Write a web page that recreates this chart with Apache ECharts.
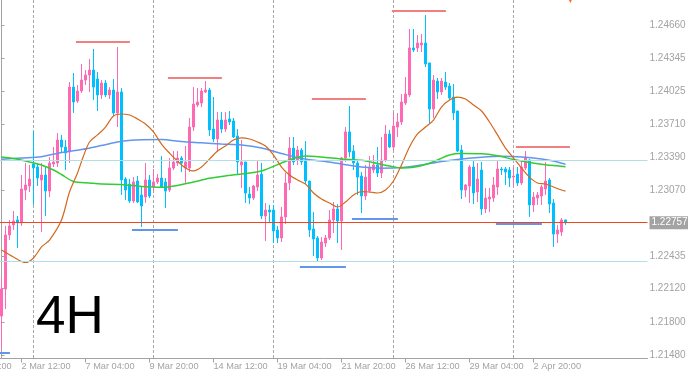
<!DOCTYPE html>
<html><head><meta charset="utf-8">
<script src="https://cdn.jsdelivr.net/npm/echarts@6/dist/echarts.min.js"></script>
<style>html,body{margin:0;padding:0;background:#fff;overflow:hidden}#c{width:688px;height:379px}</style>
</head><body><div id="c"></div>
<script>
// ---- data (4H candles, bar index 0..141) ----
const opens = [1.21856,1.22117,1.22639,1.22736,1.22784,1.22755,1.23073,1.23112,1.23324,1.23295,
1.23170,1.23218,1.23063,1.23324,1.23334,1.23556,1.23488,1.23440,1.24067,1.23932,
1.24029,1.24135,1.24184,1.24232,1.24145,1.23991,1.24106,1.23991,1.24039,1.23817,
1.24020,1.23179,1.23131,1.22967,1.23160,1.23025,1.23005,1.23170,1.23102,1.23151,
1.23189,1.23151,1.23073,1.23286,1.23334,1.23382,1.23286,1.23286,1.23681,1.23894,
1.23913,1.24020,1.24039,1.23662,1.23566,1.23749,1.23662,1.23759,1.23740,1.23595,
1.23315,1.23344,1.23034,1.22996,1.23102,1.23227,1.22822,1.22880,1.22880,1.22687,
1.22610,1.22813,1.23141,1.23478,1.23363,1.23459,1.23353,1.23160,1.22697,1.22610,
1.22417,1.22561,1.22610,1.22784,1.22890,1.22774,1.23382,1.23634,1.23449,1.23334,
1.23208,1.23015,1.23063,1.23266,1.23315,1.23237,1.23363,1.23614,1.23488,1.23681,
1.23730,1.23913,1.23991,1.24445,1.24445,1.24474,1.24493,1.24300,1.23855,1.24125,
1.24020,1.24116,1.24077,1.23971,1.23836,1.23459,1.23073,1.23112,1.23295,1.23054,
1.23266,1.22890,1.22986,1.22996,1.23102,1.23276,1.23276,1.23266,1.23198,1.23227,
1.23141,1.23286,1.23363,1.22929,1.22996,1.23015,1.23083,1.23170,1.22948,1.22648,
1.22668,1.22784];
const closes = [1.22117,1.22639,1.22726,1.22774,1.22755,1.23083,1.23122,1.23179,1.23286,1.23189,
1.23218,1.23063,1.23334,1.23344,1.23556,1.23488,1.23430,1.24067,1.23923,1.24029,
1.24135,1.24184,1.24232,1.24067,1.23991,1.24106,1.23991,1.24039,1.23817,1.24020,
1.23170,1.23073,1.22967,1.23151,1.22958,1.22919,1.23170,1.23015,1.23151,1.23189,
1.23102,1.23063,1.23286,1.23344,1.23382,1.23334,1.23344,1.23681,1.23903,1.23923,
1.24029,1.24039,1.23653,1.23566,1.23749,1.23662,1.23749,1.23730,1.23585,1.23344,
1.23344,1.23044,1.22996,1.23112,1.23218,1.22822,1.22880,1.22861,1.22677,1.22610,
1.22813,1.23141,1.23478,1.23344,1.23459,1.23344,1.23160,1.22687,1.22600,1.22417,
1.22571,1.22610,1.22784,1.22890,1.22774,1.23382,1.23634,1.23440,1.23334,1.23198,
1.23015,1.23198,1.23295,1.23315,1.23237,1.23363,1.23614,1.23488,1.23691,1.23730,
1.23923,1.24000,1.24445,1.24425,1.24493,1.24493,1.24290,1.23855,1.24135,1.24020,
1.24125,1.24067,1.23961,1.23817,1.23449,1.23073,1.23122,1.23295,1.23044,1.23179,
1.22890,1.22996,1.23005,1.23122,1.23276,1.23266,1.23247,1.23189,1.23208,1.23141,
1.23295,1.23391,1.22929,1.23005,1.23025,1.23102,1.23160,1.22938,1.22648,1.22687,
1.22784,1.22757];
const lows = [1.21538,1.21924,1.22590,1.22687,1.22513,1.22726,1.22977,1.23054,1.22929,1.23112,
1.22668,1.22822,1.23005,1.23295,1.23295,1.23430,1.23266,1.23334,1.23817,1.23913,
1.24010,1.24087,1.24020,1.23942,1.23836,1.23952,1.23971,1.23952,1.23788,1.23681,
1.23025,1.22977,1.22948,1.22948,1.22948,1.22716,1.22948,1.22996,1.23044,1.23131,
1.23093,1.22900,1.23054,1.23266,1.23305,1.23247,1.23131,1.23247,1.23643,1.23874,
1.23874,1.24010,1.23595,1.23537,1.23440,1.23624,1.23634,1.23701,1.23576,1.23218,
1.23093,1.22948,1.22938,1.22977,1.23063,1.22793,1.22580,1.22765,1.22561,1.22561,
1.22571,1.22745,1.23073,1.23315,1.23315,1.23315,1.23131,1.22619,1.22436,1.22378,
1.22397,1.22523,1.22590,1.22658,1.22561,1.22494,1.23344,1.23391,1.23266,1.23025,
1.22851,1.22977,1.23044,1.23237,1.23198,1.23189,1.23344,1.23478,1.23459,1.23585,
1.23701,1.23894,1.23971,1.24406,1.24406,1.24406,1.24261,1.23720,1.23769,1.23952,
1.23991,1.24039,1.23942,1.23749,1.23440,1.22986,1.23005,1.22948,1.22938,1.22958,
1.22832,1.22851,1.22861,1.22958,1.23025,1.23218,1.23122,1.23102,1.23102,1.23112,
1.23122,1.23266,1.22813,1.22861,1.22929,1.22929,1.23025,1.22851,1.22523,1.22561,
1.22629,1.22736];
const highs = [1.22224,1.22726,1.22784,1.22870,1.22822,1.23218,1.23334,1.23315,1.23643,1.23334,
1.23334,1.23295,1.23391,1.23488,1.23624,1.23605,1.23556,1.24116,1.24203,1.24087,
1.24290,1.24232,1.24338,1.24435,1.24213,1.24135,1.24135,1.24067,1.24145,1.24454,
1.24058,1.23198,1.23179,1.23198,1.23208,1.23102,1.23334,1.23218,1.23276,1.23227,
1.23401,1.23189,1.23382,1.23449,1.23449,1.23401,1.23498,1.23769,1.24067,1.24058,
1.24058,1.24125,1.24058,1.23971,1.23826,1.23826,1.23826,1.23836,1.23769,1.23662,
1.23556,1.23344,1.23102,1.23122,1.23353,1.23334,1.22948,1.22929,1.22929,1.22726,
1.22909,1.23237,1.23585,1.23585,1.23498,1.23478,1.23546,1.23160,1.22861,1.22629,
1.22619,1.22639,1.22880,1.22958,1.22938,1.23392,1.23681,1.23884,1.23507,1.23363,
1.23247,1.23315,1.23401,1.23411,1.23488,1.23585,1.23701,1.23653,1.23817,1.23817,
1.24000,1.24164,1.24628,1.24628,1.24570,1.24579,1.24763,1.24300,1.24184,1.24155,
1.24155,1.24213,1.24106,1.24096,1.23836,1.23507,1.23131,1.23315,1.23353,1.23334,
1.23344,1.23093,1.23093,1.23198,1.23363,1.23295,1.23295,1.23295,1.23295,1.23295,
1.23363,1.23449,1.23372,1.23054,1.23054,1.23122,1.23344,1.23189,1.22986,1.22736,
1.22803,1.22784];

// moving averages: [bar index, price]
const maFast = [[0,1.22494],[3,1.22426],[6,1.22373],[8,1.22417],[10,1.22523],[12,1.22590],[15,1.22784],
[17,1.23054],[19,1.23237],[20.4,1.23391],[22,1.23537],[24,1.23605],[26,1.23681],[28,1.23788],[30,1.23807],
[32,1.23797],[34,1.23759],[36,1.23710],[38,1.23634],[40,1.23517],[42,1.23430],[44,1.23353],[46,1.23286],
[48,1.23257],[50,1.23295],[52,1.23372],[54,1.23449],[56,1.23498],[58,1.23556],[60,1.23576],[62,1.23566],
[64,1.23537],[66,1.23498],[68,1.23411],[70,1.23295],[72,1.23218],[74,1.23170],[76,1.23131],[78,1.23044],
[80,1.22986],[82,1.22948],[84,1.22909],[86,1.22958],[88,1.23025],[90,1.23058],[92,1.23054],[94,1.23044],
[96,1.23073],[98,1.23160],[100,1.23315],[102,1.23488],[104,1.23614],[106,1.23681],[108,1.23749],[110,1.23874],
[112,1.23942],[114,1.23971],[116,1.23952],[118,1.23894],[120,1.23836],[122,1.23730],[124,1.23605],[126,1.23478],
[128,1.23382],[130,1.23286],[132,1.23198],[134,1.23141],[136,1.23131],[138,1.23102],[140,1.23073],[141,1.23063]];
const maSlow = [[0,1.23370],[5,1.23382],[10,1.23395],[15,1.23435],[20,1.23464],[25,1.23503],[30,1.23544],
[35,1.23559],[40,1.23560],[45,1.23541],[50,1.23529],[55,1.23517],[60,1.23507],[65,1.23478],[70,1.23426],
[75,1.23377],[80,1.23353],[85,1.23324],[90,1.23295],[95,1.23284],[100,1.23290],[105,1.23315],[110,1.23348],
[115,1.23373],[120,1.23390],[125,1.23399],[130,1.23392],[135,1.23373],[138,1.23353],[141,1.23321]];
const maMid = [[0,1.23392],[3,1.23377],[7,1.23344],[10,1.23315],[13,1.23266],[15,1.23223],[18,1.23155],
[22,1.23141],[25,1.23131],[30,1.23126],[35,1.23107],[40,1.23099],[44,1.23117],[48,1.23151],[52,1.23186],
[55,1.23204],[60,1.23227],[65,1.23257],[70,1.23334],[73,1.23377],[76,1.23401],[80,1.23392],[85,1.23373],
[90,1.23360],[94,1.23329],[97,1.23305],[100,1.23286],[103,1.23292],[106,1.23319],[109,1.23363],[112,1.23411],
[115,1.23425],[120,1.23423],[124,1.23404],[128,1.23368],[132,1.23339],[136,1.23317],[141,1.23298]];

// drawn level segments: price, first bar, last bar
const resistValues = [1.24502,1.24155,1.23952,1.24802,1.23488];
const resistFrom   = [18.6,41.6,77.6,97.6,128.6];
const resistTo     = [32.1,55.1,91.1,111.1,142.1];
const supportValues = [1.22687,1.22330,1.22793,1.22745,1.21499];
const supportFrom   = [32.6,74.6,87.6,123.6,-0.4];
const supportTo     = [44.1,86.1,99.1,135.1,2.1];

const levelLines = [1.23360, 1.22388];
const currentPrice = 1.22757;
const separatorBars = [8,38,68,98,128];
const arrowMark = [[142.2, 1.24908]];

const tickLabels = ["27 Feb 20:00","2 Mar 12:00","7 Mar 04:00","9 Mar 20:00","14 Mar 12:00","19 Mar 04:00","21 Mar 20:00","26 Mar 12:00","29 Mar 04:00","2 Apr 20:00"];
const tickBars = [-11,5,21,37,53,69,85,101,117,133];
const priceLabels = [1.24660,1.24345,1.24025,1.23710,1.23390,1.23070,1.22435,1.22120,1.21800,1.21480];
const timeframe = "4H";

// ---- build ----
const barsBefore = 12, barsAfter = 20;
const Y_MIN = 1.21446, Y_MAX = 1.24908;
const X_MIN = -barsBefore - 0.5, X_MAX = opens.length + barsAfter - 0.5;
const cats = [];
for (let i = -barsBefore; i < opens.length + barsAfter; i++) cats.push(String(i));
const candleData = cats.map(c => {
  const i = Number(c);
  if (i < 0 || i >= opens.length) return '-';
  return [opens[i], closes[i], lows[i], highs[i]];
});
const labelMap = {};
tickBars.forEach((b, k) => { labelMap[String(b)] = tickLabels[k]; });
const showTick = (idx, val) => labelMap[val] !== undefined;

const FONT = '"Liberation Sans", Arial, sans-serif';
const GREY = '#a3a3a3';

const chart = echarts.init(document.getElementById('c'), null, {renderer: 'canvas'});
chart.setOption({
  animation: false,
  backgroundColor: '#ffffff',
  grid: {left: -48.5, right: 40.5, top: 0, bottom: 20.5, containLabel: false, outerBoundsMode: 'none'},
  xAxis: [{
    type: 'category', data: cats, boundaryGap: true,
    axisLine: {show: true, lineStyle: {color: GREY, width: 1}},
    axisTick: {show: true, alignWithLabel: true, interval: showTick, length: 4, lineStyle: {color: GREY}},
    axisLabel: {show: true, interval: showTick, formatter: v => labelMap[v] || '', align: 'left',
      margin: 3, color: GREY, fontSize: 9.2, fontFamily: FONT},
    splitLine: {show: false}
  }, {
    type: 'value', min: X_MIN, max: X_MAX, show: false,
    axisLine: {show: false}, axisTick: {show: false}, axisLabel: {show: false}, splitLine: {show: false}
  }],
  yAxis: [{
    type: 'value', position: 'right', min: Y_MIN, max: Y_MAX,
    axisLine: {show: true, lineStyle: {color: GREY, width: 1}},
    axisTick: {show: true, length: 3, customValues: priceLabels, lineStyle: {color: GREY}},
    axisLabel: {show: true, customValues: priceLabels, formatter: v => v.toFixed(5), margin: 2,
      color: GREY, fontSize: 10, fontFamily: FONT},
    splitLine: {show: false}
  }, {
    type: 'value', position: 'right', min: Y_MIN, max: Y_MAX,
    axisLine: {show: false}, axisTick: {show: false}, splitLine: {show: false},
    axisLabel: {show: true, customValues: [currentPrice], formatter: v => v.toFixed(5), margin: 2,
      color: '#ffffff', backgroundColor: '#a3a3a3', padding: [2, 3, 1, 2], fontSize: 10, fontFamily: FONT}
  }],
  graphic: [{
    type: 'text', left: 36, top: 292,
    style: {text: timeframe, fill: '#000000', font: '53px ' + FONT}
  }],
  series: [
    {
      type: 'lines', coordinateSystem: 'cartesian2d', xAxisIndex: 1, yAxisIndex: 0, z: 1, silent: true,
      lineStyle: {color: '#a8a8a8', width: 1, type: [3, 2], opacity: 1},
      data: separatorBars.map(b => ({coords: [[b, Y_MAX], [b, Y_MIN]]}))
    },
    {
      type: 'candlestick', xAxisIndex: 0, yAxisIndex: 0, data: candleData, barWidth: 3, z: 3,
      itemStyle: {color: '#ff69b4', color0: '#00bfff', borderColor: '#ff69b4', borderColor0: '#00bfff', borderWidth: 1}
    },
    {type: 'line', xAxisIndex: 1, data: maSlow, symbol: 'none', smooth: 0.3, z: 4,
      lineStyle: {color: '#6495ed', width: 1.5}},
    {type: 'line', xAxisIndex: 1, data: maMid, symbol: 'none', smooth: 0.3, z: 4,
      lineStyle: {color: '#32cd32', width: 1.5}},
    {type: 'line', xAxisIndex: 1, data: maFast, symbol: 'none', smooth: 0.3, z: 4,
      lineStyle: {color: '#d2691e', width: 1.2}},
    {
      type: 'lines', coordinateSystem: 'cartesian2d', xAxisIndex: 1, yAxisIndex: 0, z: 5, silent: true,
      lineStyle: {color: '#b0e0e6', width: 1, opacity: 1},
      data: levelLines.map(v => ({coords: [[X_MIN, v], [X_MAX, v]]}))
    },
    {
      type: 'lines', coordinateSystem: 'cartesian2d', xAxisIndex: 1, yAxisIndex: 0, z: 5, silent: true,
      lineStyle: {color: '#f0441c', width: 1, opacity: 1},
      data: [{coords: [[X_MIN, currentPrice], [X_MAX, currentPrice]]}]
    },
    {
      type: 'lines', coordinateSystem: 'cartesian2d', xAxisIndex: 1, yAxisIndex: 0, z: 6, silent: true,
      lineStyle: {color: '#f08080', width: 2, opacity: 1},
      data: resistValues.map((v, k) => ({coords: [[resistFrom[k], v], [resistTo[k], v]]}))
    },
    {
      type: 'lines', coordinateSystem: 'cartesian2d', xAxisIndex: 1, yAxisIndex: 0, z: 6, silent: true,
      lineStyle: {color: '#6495ed', width: 2, opacity: 1},
      data: supportValues.map((v, k) => ({coords: [[supportFrom[k], v], [supportTo[k], v]]}))
    },
    {
      type: 'scatter', xAxisIndex: 1, yAxisIndex: 0, data: arrowMark, symbol: 'triangle', symbolRotate: 180,
      symbolSize: [6, 6], itemStyle: {color: '#ff4500'}, z: 7, clip: false
    }
  ]
});
</script></body></html>
